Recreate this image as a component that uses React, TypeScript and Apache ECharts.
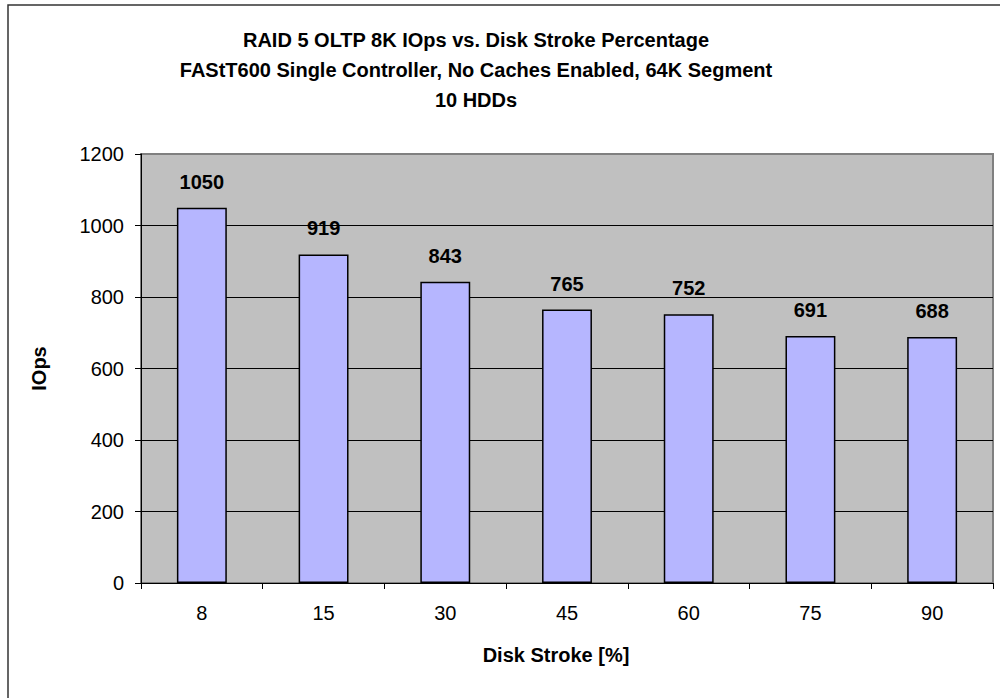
import React, { useEffect, useRef } from "react";
import * as echarts from "echarts";

const titleLines = [
  "RAID 5 OLTP 8K IOps vs. Disk Stroke Percentage",
  "FAStT600 Single Controller, No Caches Enabled, 64K Segment",
  "10 HDDs",
];
const categories = ["8", "15", "30", "45", "60", "75", "90"];
const iops = [1050, 919, 843, 765, 752, 691, 688];
const xName = "Disk Stroke [%]";
const yName = "IOps";

export default function App() {
  const ref = useRef<HTMLDivElement>(null);
  useEffect(() => {
    if (!ref.current) return;
    const chart = echarts.init(ref.current, null, { renderer: "svg" });
    const font = "'Liberation Sans', Arial, sans-serif";
    chart.setOption({
      animation: false,
      backgroundColor: "#ffffff",
      textStyle: { fontFamily: font },
      title: {
        text: titleLines.join("\n"),
        left: 471,
        textAlign: "center",
        top: 20,
        textStyle: {
          fontFamily: font,
          fontSize: 20,
          fontWeight: "bold",
          color: "#000",
          lineHeight: 30,
        },
      },
      graphic: [
        {
          type: "rect",
          shape: { x: 8, y: 5, width: 1200, height: 900 },
          style: { fill: "none", stroke: "#333", lineWidth: 1.5 },
          z: 100,
        },
      ],
      grid: {
        left: 141,
        top: 154,
        right: 7,
        bottom: 115,
        show: true,
        backgroundColor: "#c0c0c0",
        borderColor: "#808080",
        borderWidth: 2,
      },
      xAxis: {
        type: "category",
        data: categories,
        name: xName,
        nameLocation: "middle",
        nameGap: 62,
        nameTextStyle: {
          fontFamily: font,
          fontSize: 20,
          fontWeight: "bold",
          color: "#000",
          padding: [0, 22, 0, 0],
        },
        axisLine: { show: true, lineStyle: { color: "#000", width: 1 } },
        axisTick: { show: true, alignWithLabel: false, length: 6, lineStyle: { color: "#000" } },
        axisLabel: { fontFamily: font, fontSize: 20, color: "#000", margin: 20 },
      },
      yAxis: {
        type: "value",
        min: 0,
        max: 1200,
        interval: 200,
        name: yName,
        nameLocation: "middle",
        nameGap: 92,
        nameRotate: 90,
        nameTextStyle: { fontFamily: font, fontSize: 20, fontWeight: "bold", color: "#000" },
        axisLine: { show: true, lineStyle: { color: "#000", width: 1 } },
        axisTick: { show: true, length: 6, lineStyle: { color: "#000" } },
        axisLabel: {
          fontFamily: font,
          fontSize: 20,
          color: "#000",
          margin: 17,
          formatter: (v: number) => String(v),
        },
        splitLine: {
          show: true,
          lineStyle: {
            color: ["#000", "#000", "#000", "#000", "#000", "#000", "#808080"],
            width: 1,
          },
        },
      },
      series: [
        {
          type: "bar",
          data: iops,
          barWidth: "41%",
          itemStyle: { color: "#b6b6ff", borderColor: "#000", borderWidth: 1.5 },
          label: {
            show: true,
            position: "top",
            distance: 16,
            fontFamily: font,
            fontSize: 20,
            fontWeight: "bold",
            color: "#000",
          },
        },
      ],
    });
    return () => chart.dispose();
  }, []);
  return (
    <div
      ref={ref}
      style={{ position: "fixed", left: 0, top: 0, width: 1000, height: 698 }}
    />
  );
}
